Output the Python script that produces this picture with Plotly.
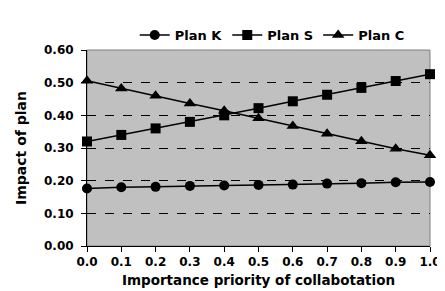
import plotly.graph_objects as go

x_vals = [0.0, 0.1, 0.2, 0.3, 0.4, 0.5, 0.6, 0.7, 0.8, 0.9, 1.0]
plan_k = [0.176, 0.180, 0.181, 0.184, 0.185, 0.187, 0.188, 0.191, 0.192, 0.195, 0.196]
plan_s = [0.320, 0.340, 0.360, 0.380, 0.400, 0.422, 0.443, 0.463, 0.484, 0.505, 0.526]
plan_c = [0.506, 0.482, 0.460, 0.436, 0.414, 0.391, 0.367, 0.344, 0.321, 0.298, 0.278]

series = [("Plan K", plan_k, "circle", 10), ("Plan S", plan_s, "square", 10), ("Plan C", plan_c, "triangle-up", 11)]

FONT = "DejaVu Sans"
fig = go.Figure()
for name, ys, sym, sz in series:
    fig.add_trace(go.Scatter(
        x=x_vals, y=ys, name=name, mode="lines+markers",
        line=dict(color="black", width=1.5),
        marker=dict(symbol=sym, size=sz, color="black"),
        cliponaxis=False,
    ))

fig.update_layout(
    width=445, height=291,
    margin=dict(l=79, r=12, t=30, b=53),
    paper_bgcolor="white", plot_bgcolor="#C0C0C0",
    font=dict(family=FONT, size=12, color="black"),
    showlegend=True,
    legend=dict(orientation="h", x=0.54, xanchor="center", y=1.0, yanchor="bottom",
                font=dict(family=FONT, size=13, color="black", weight="bold"),
                bgcolor="rgba(0,0,0,0)", itemwidth=30, tracegroupgap=0),
    shapes=[dict(type="rect", xref="paper", yref="paper", x0=0, x1=1, y0=0, y1=1,
                 line=dict(color="#808080", width=1), layer="below")],
)
fig.update_xaxes(
    range=[0, 1], dtick=0.1, tick0=0, tickformat=".1f",
    showgrid=False, zeroline=False,
    showline=True, linecolor="black", linewidth=1,
    ticks="outside", ticklen=5, tickcolor="black",
    tickfont=dict(family=FONT, size=12, weight="bold"),
    title=dict(text="Importance priority of collabotation", standoff=7,
               font=dict(family=FONT, size=13.5, weight="bold")),
)
fig.update_yaxes(
    range=[0, 0.6], dtick=0.1, tick0=0, tickformat=".2f",
    showgrid=True, gridcolor="black", griddash="dash", gridwidth=1,
    zeroline=False,
    showline=True, linecolor="black", linewidth=1,
    ticks="outside", ticklen=5, tickcolor="black", ticklabelstandoff=5,
    tickfont=dict(family=FONT, size=12, weight="bold"),
    title=dict(text="Impact of plan", standoff=14,
               font=dict(family=FONT, size=14, weight="bold")),
)

fig.write_html("out.html")
